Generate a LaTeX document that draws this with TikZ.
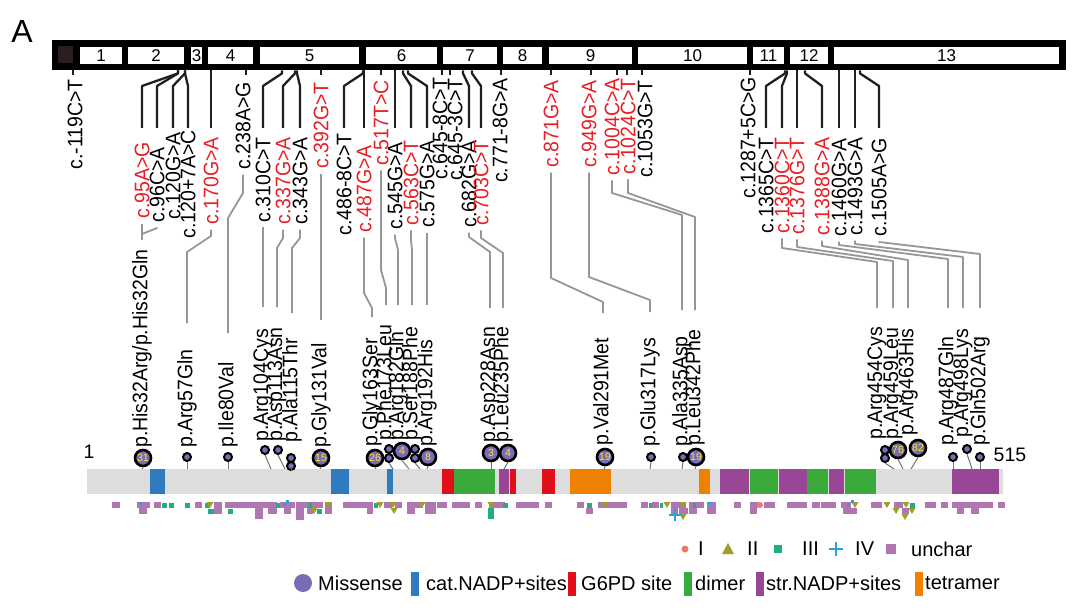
\documentclass[tikz,border=0pt]{standalone}
\usepackage{fontspec}
\setmainfont{Liberation Sans}
\usepackage{xcolor}
\definecolor{cred}{RGB}{232,30,36}
\definecolor{lgrey}{RGB}{150,150,150}
\definecolor{bargrey}{RGB}{221,221,221}
\definecolor{dblue}{RGB}{46,124,190}
\definecolor{dred}{RGB}{226,14,26}
\definecolor{dgreen}{RGB}{58,170,58}
\definecolor{dpurple}{RGB}{154,70,150}
\definecolor{dorange}{RGB}{240,128,0}
\definecolor{mpurple}{RGB}{122,108,180}
\definecolor{mpink}{RGB}{238,118,108}
\definecolor{molive}{RGB}{160,158,40}
\definecolor{mteal}{RGB}{30,176,122}
\definecolor{mcyan}{RGB}{40,160,222}
\definecolor{morchid}{RGB}{176,118,178}
\definecolor{dyellow}{RGB}{250,230,40}
\definecolor{utrbrown}{RGB}{42,30,30}

\begin{document}
\begin{tikzpicture}[
    x=1pt, y=-1pt,
    lab/.style={rotate=90, yscale=1.08, inner sep=0pt, font=\fontsize{19.5}{20}\selectfont},
    clab/.style={lab, anchor=east},
    plab/.style={lab, anchor=west},
    stalk/.style={line width=2.3pt, black!88, line join=round},
    link/.style={line width=1.8pt, lgrey, line join=round},
    exnum/.style={inner sep=0pt, font=\fontsize{17}{17}\selectfont},
    bigdot/.style={circle, draw=black, line width=2.6pt, fill=mpurple,
        minimum size=16pt, inner sep=0pt, text=dyellow,
        font=\fontsize{10.5}{10.5}\selectfont},
    smalldot/.style={circle, draw=black, line width=2pt, fill=mpurple,
        minimum size=8pt, inner sep=0pt},
    stem/.style={line width=1pt, black!55},
    legtext/.style={anchor=west, inner sep=0pt, font=\fontsize{20}{20}\selectfont}]

\useasboundingbox (0,0) rectangle (1077,615);

\node[font=\fontsize{32}{32}\selectfont, inner sep=0pt] (panel) at (22,31) {A};

% Gene with exons
\node[fill=black, inner sep=0pt, minimum width=1014pt, minimum height=30pt,
    anchor=north west] (gene) at (52,40) {};
\fill[utrbrown] (58,46) rectangle (73,63);
\foreach \a/\b/\n in {80/122/1, 128/184/2, 191/202/3, 208/253/4, 260/359/5,
    366/437/6, 443/497/7, 503/542/8, 549/632/9, 638/747/10, 753/784/11,
    790/828/12, 834/1059/13}
{
    \fill[white] (\a,47) rectangle (\b,64);
    \node[exnum] (ex\n) at ({(\a+\b)/2},55.5) {\n};
}

% cDNA variants, short tick
\foreach \n/\tx/\x/\y/\col/\s in {
    m119/73/75/79/black/c.-119C>T, 238/246/243/82/black/c.238A>G,
    392/321/321/82/cred/c.392G>T, 517/381/381/80/cred/c.517T>C,
    645a/442/440/77/black/c.645-8C>T, 645b/450/455/78/black/c.645-3C>T,
    771/501/500/78/black/c.771-8G>A, 871/551/551/80/cred/c.871G>A,
    949/591/589/80/cred/c.949G>A, 1004/617/612/78/cred/c.1004C>A,
    1024/627/628/78/cred/c.1024C>T, 1053/642/645/80/black/c.1053G>T,
    1287/750/748/77/black/c.1287+5C>G}
{
    \node[clab, text=\col] (c\n) at (\x,\y) {\s};
    \draw[stalk] (gene.south -| \tx,0) -- ++(0,5);
}

% cDNA variants, long stalk
\foreach \n/\tx/\x/\y/\col/\s in {
    95/178/142/142/cred/c.95A>G, 96/178/157/147/black/c.96C>A,
    120/185/173/132/black/c.120G>A, 120i/185/188/130/black/c.120+7A>C,
    170/211/211/137/cred/c.170G>A, 310/282/263/137/black/c.310C>T,
    337/295/283/137/cred/c.337G>A, 343/297/300/137/black/c.343G>A,
    486/363/344/133/black/c.486-8C>T, 487/364/364/145/cred/c.487G>A,
    545/395/395/142/black/c.545G>A, 563/403/411/140/cred/c.563C>T,
    575/408/427/140/black/c.575G>A, 682/463/469/140/black/c.682G>A,
    703/472/481/140/cred/c.703C>T, 1365/785/766/137/black/c.1365C>T,
    1360/787/782/137/cred/c.1360C>T, 1376/797/797/137/cred/c.1376G>T,
    1388/805/822/137/cred/c.1388G>A, 1460/839/839/138/black/c.1460G>A,
    1493/855/855/137/black/c.1493G>A, 1505/860/879/138/black/c.1505A>G}
{
    \node[clab, text=\col] (c\n) at (\x,\y) {\s};
    \draw[stalk] (gene.south -| \tx,0) -- ++(0,3) -- (c\n.east |- 0,86)
        -- (c\n.east |- 0,128);
}

% Protein variants
\node[plab] (p32) at (142,448) {p.His32Arg/p.His32Gln};
\foreach \n/\x/\y/\s in {
    57/187/448/p.Arg57Gln, 80/228/448/p.Ile80Val, 104/263/442/p.Arg104Cys,
    113/277/442/p.Asp113Asn, 115/292/443/p.Ala115Thr, 131/321/448/p.Gly131Val,
    163/372/447/p.Gly163Ser, 173/386/441/p.Phe173Leu, 182/398/441/p.Arg182Gln,
    188/412/441/p.Ser188Phe, 192/427/447/p.Arg192His, 228/490/443/p.Asp228Asn,
    235/503/443/p.Leu235Phe, 291/603/446/p.Val291Met, 317/650/447/p.Glu317Lys,
    335/682/447/p.Ala335Asp, 342/695/446/p.Leu342Phe, 454/877/440/p.Arg454Cys,
    459/893/440/p.Arg459Leu, 463/908/436/p.Arg463His, 487/948/446/p.Arg487Gln,
    498/963/438/p.Arg498Lys, 502/980/446/p.Gln502Arg}
    \node[plab] (p\n) at (\x,\y) {\s};

% cDNA to protein
\foreach \a/\b/\ya/\yb/\ye in {
    95/32/240/240/240, 96/32/228/234/238, 170/57/236/252/323,
    238/80/193/218/333, 310/104/307/307/307, 337/113/238/248/307,
    343/115/238/248/313, 392/131/320/320/320, 487/163/293/308/317,
    517/173/270/288/305, 545/182/238/250/305, 563/188/240/250/305,
    575/192/305/305/305, 682/228/237/252/308, 703/235/238/253/308,
    871/291/278/302/313, 949/317/277/300/312, 1004/335/193/215/310,
    1024/342/193/217/310, 1360/454/248/262/308, 1376/459/247/261/308,
    1388/463/246/260/308, 1460/487/245/259/308, 1493/498/244/257/308,
    1505/502/242/254/308}
    \draw[link] ([yshift=-5pt]c\a.west) -- (c\a.west |- 0,\ya)
        -- (p\b.east |- 0,\yb) -- (p\b.east |- 0,\ye);

% Protein bar and domains
\node[fill=bargrey, inner sep=0pt, minimum width=916pt, minimum height=25pt,
    anchor=north west] (prot) at (87,469) {};
\foreach \a/\b/\col in {150/165/dblue, 331/349/dblue, 387/393/dblue,
    442/454/dred, 510/516/dred, 542/555/dred, 454/495/dgreen, 750/778/dgreen,
    807/828/dgreen, 845/876/dgreen, 499/509/dpurple, 720/749/dpurple,
    779/807/dpurple, 829/844/dpurple, 952/999/dpurple, 570/611/dorange,
    699/710/dorange}
    \fill[\col] (\a,469) rectangle (\b,494);
\node[font=\fontsize{19.5}{20}\selectfont, inner sep=0pt] (pstart) at (89,452) {1};
\node[font=\fontsize{19.5}{20}\selectfont, inner sep=0pt] (pend) at (1010,455) {515};

% Lollipops
\foreach \n/\x/\y/\ax/\num in {32/143/458/142/31, 131/321/458/320/15,
    163/375/458/376/26, 182/402/451/409/4, 192/428/457/427/8,
    228/491/453/491/3, 235/508/453/504/4, 291/605/457/604/19,
    342/696/457/695/19, 459/898/450/903/76, 463/918/448/911/82}
{
    \node[bigdot] (d\n) at (\x,\y) {\num};
    \draw[stem] (d\n.south) -- (prot.north -| \ax,0);
}
\foreach \n/\x/\y in {115a/291/458, 173a/389/449, 188a/415/449, 454a/885/450}
    \node[smalldot] (s\n) at (\x,\y) {};
\foreach \n/\x/\y/\ax in {57/187/457/187, 80/228/457/228, 104/265/450/271,
    113/278/450/285, 115/291/466/291, 173/389/458/393, 188/415/458/420,
    317/651/457/650, 335/683/457/682, 454/885/458/894, 487/953/457/953,
    498/967/449/972, 502/980/457/980}
{
    \node[smalldot] (s\n) at (\x,\y) {};
    \draw[stem] (s\n.south) -- (prot.north -| \ax,0);
}

% Variant classes under the bar
\foreach \a/\b in {112/120, 137/150, 154/161, 195/202, 214/222, 225/277,
    280/295, 296/323, 325/332, 343/362, 362/373, 384/392, 395/402, 407/423,
    425/436, 437/447, 452/470, 475/482, 489/505, 516/539, 545/552, 577/584,
    598/627, 641/648, 652/659, 671/686, 689/704, 707/716, 734/741, 750/758,
    764/775, 787/807, 812/820, 821/836, 841/851, 871/882, 894/903, 925/936,
    941/948, 952/993, 998/1005}
    \fill[morchid] (\a,502) rectangle (\b,508);
\foreach \a/\b/\e in {139/147/514, 214/222/514, 255/263/519, 268/277/514,
    284/291/514, 296/304/520, 307/313/514, 325/332/514, 367/373/514,
    407/415/514, 425/436/514, 586/593/514, 671/678/514, 679/688/514,
    689/697/514, 707/716/514, 750/757/514, 843/857/514, 902/909/514,
    957/964/514, 971/979/514}
    \fill[morchid] (\a,508) rectangle (\b,\e);
\foreach \a/\y/\w/\h in {162/503/5/5, 169/503/5/5, 185/503/5/5, 205/503/5/5,
    276/503/4/5, 308/503/4/5, 374/503/4/5, 503/503/5/5, 587/503/5/5,
    649/503/3/5, 660/503/3/5, 693/503/3/5, 910/503/5/5, 208/509/6/5,
    228/509/5/5, 317/509/5/5, 488/508/6/11}
    \fill[mteal] (\a,\y) rectangle ++(\w,\h);
\foreach \x/\y in {210/505, 328/505, 380/505, 393/505, 422/505, 491/505,
    605/505, 667/505, 683/505, 855/505, 887/505, 906/505, 314/511, 394/511,
    896/511, 912/511, 683/517, 905/517}
    \fill[molive] (\x-3.5,\y-3) -- (\x+3.5,\y-3) -- (\x,\y+3) -- cycle;
\foreach \x/\y in {140/503, 284/504, 287/501, 709/503, 848/504, 852/501}
    \fill[mcyan] (\x-1.5,\y-1.5) rectangle (\x+1.5,\y+1.5);
\draw[mcyan, line width=2.5pt] (675,509) -- (675,521) (669,515) -- (681,515);
\fill[mpink] (760,505) circle (3pt);

% Legend
\fill[mpink] (685,549) circle (3.5pt);
\node[legtext] (lI) at (698,549) {I};
\fill[molive] (722,554) -- (734,554) -- (728,543) -- cycle;
\node[legtext] (lII) at (747,549) {II};
\fill[mteal] (774,545) rectangle (782,553);
\node[legtext] (lIII) at (802,549) {III};
\draw[mcyan, line width=2.5pt] (836,542) -- (836,556) (829,549) -- (843,549);
\node[legtext] (lIV) at (855,549) {IV};
\fill[morchid] (886,544) rectangle (896,554);
\node[legtext] (lun) at (911,549) {unchar};

\fill[mpurple] (303,583) circle (9pt);
\node[legtext] (lmis) at (318,583) {Missense};
\foreach \a/\col/\s/\tx/\n in {411/dblue/cat.NADP+sites/426/cat,
    568/dred/G6PD site/581/g6pd, 684/dgreen/dimer/695/dim,
    756/dpurple/str.NADP+sites/766/str, 915/dorange/tetramer/925/tet}
{
    \fill[\col] (\a,572) rectangle ++(8,24);
    \node[legtext] (l\n) at (\tx,583) {\s};
}

\end{tikzpicture}
\end{document}
